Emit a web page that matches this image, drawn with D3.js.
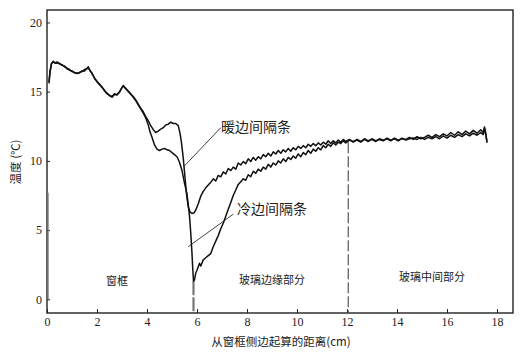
<!DOCTYPE html>
<html>
<head>
<meta charset="utf-8">
<script src="https://cdn.jsdelivr.net/npm/d3@7"></script>
<style>
  body { margin: 0; background: #fff; }
  svg { display: block; }
  .tick text { font-family: "Liberation Serif", serif; font-size: 12px; fill: #222; }
  .cjk { font-family: "Noto Sans CJK SC", sans-serif; fill: #222; }
</style>
</head>
<body>
<svg width="530" height="352"></svg>
<script>
// tick values
const xTicks = [0, 2, 4, 6, 8, 10, 12, 14, 16, 18];
const yTicks = [0, 5, 10, 15, 20];

// temperature along distance, warm edge spacer (cm, °C)
const warmEdge = [
  [0.08,15.6],[0.12,16.4],[0.18,17.0],[0.25,17.2],[0.32,17.05],[0.4,17.15],[0.5,17.0],[0.6,16.95],
  [0.7,16.8],[0.8,16.7],[0.9,16.6],[1.0,16.45],[1.1,16.4],[1.2,16.3],[1.3,16.4],[1.4,16.45],
  [1.5,16.6],[1.6,16.65],[1.65,16.8],[1.72,16.5],[1.8,16.35],[1.9,15.95],[2.0,15.75],[2.1,15.5],
  [2.2,15.35],[2.3,15.05],[2.4,14.9],[2.5,14.7],[2.6,14.65],[2.7,14.85],[2.8,14.75],[2.9,15.0],
  [3.0,15.3],[3.05,15.45],[3.15,15.2],[3.25,15.05],[3.35,14.8],[3.45,14.65],[3.55,14.4],[3.65,14.1],
  [3.75,13.8],[3.85,13.55],[3.95,13.2],[4.05,12.9],[4.15,12.55],[4.25,12.25],[4.35,12.05],[4.45,12.15],
  [4.55,12.3],[4.65,12.4],[4.75,12.6],[4.85,12.65],[4.95,12.8],[5.05,12.7],[5.15,12.7],[5.25,12.55],
  [5.32,12.0],[5.38,11.3],[5.45,10.2],[5.52,8.8],[5.58,7.6],[5.65,6.7],[5.72,6.3],[5.8,6.2],
  [5.88,6.25],[5.95,6.45],[6.05,6.9],[6.15,7.45],[6.25,7.8],[6.35,8.05],[6.45,8.25],[6.55,8.45],
  [6.65,8.7],[6.75,8.55],[6.85,8.95],[6.95,8.85],[7.05,9.2],[7.15,9.05],[7.25,9.45],[7.35,9.3],
  [7.45,9.55],[7.55,9.4],[7.65,9.85],[7.75,9.7],[7.85,9.95],[7.95,9.8],[8.05,10.15],[8.15,9.95],
  [8.25,10.25],[8.35,10.05],[8.45,10.3],[8.55,10.15],[8.65,10.45],[8.75,10.3],[8.85,10.55],[8.95,10.35],
  [9.05,10.65],[9.15,10.5],[9.25,10.75],[9.35,10.55],[9.45,10.8],[9.55,10.65],[9.65,10.9],[9.75,10.7],
  [9.85,10.95],[9.95,10.8],[10.05,11.05],[10.15,10.9],[10.25,11.1],[10.35,10.95],[10.45,11.2],[10.55,11.05],
  [10.65,11.25],[10.75,11.1],[10.85,11.3],[10.95,11.15],[11.05,11.35],[11.15,11.2],[11.25,11.45],[11.35,11.25],
  [11.45,11.45],[11.55,11.3],[11.65,11.5],[11.75,11.35],[11.85,11.55],[11.95,11.4],[12.1,11.55],[12.25,11.35],
  [12.4,11.55],[12.55,11.4],[12.7,11.6],[12.85,11.45],[13.0,11.55],[13.15,11.4],[13.3,11.6],[13.45,11.5],
  [13.6,11.6],[13.75,11.45],[13.9,11.65],[14.05,11.5],[14.2,11.6],[14.35,11.55],[14.5,11.7],[14.65,11.55],
  [14.8,11.75],[14.95,11.6],[15.1,11.7],[15.25,11.85],[15.4,11.7],[15.55,11.9],[15.7,11.75],[15.85,11.95],
  [16.0,11.8],[16.15,12.05],[16.3,11.85],[16.45,12.1],[16.6,11.9],[16.75,12.15],[16.9,11.95],[17.05,12.2],
  [17.2,12.0],[17.35,12.25],[17.45,12.05],[17.5,12.45],[17.55,12.0],[17.6,11.3]
];

// temperature along distance, cold edge spacer (cm, °C)
const coldEdge = [
  [0.08,15.7],[0.12,16.5],[0.18,17.05],[0.25,17.15],[0.32,17.1],[0.4,17.05],[0.5,17.05],[0.6,16.9],
  [0.7,16.85],[0.8,16.65],[0.9,16.55],[1.0,16.5],[1.1,16.35],[1.2,16.35],[1.3,16.35],[1.4,16.5],
  [1.5,16.5],[1.6,16.7],[1.65,16.7],[1.72,16.55],[1.8,16.3],[1.9,16.0],[2.0,15.7],[2.1,15.55],
  [2.2,15.3],[2.3,15.1],[2.4,14.85],[2.5,14.75],[2.6,14.6],[2.7,14.8],[2.8,14.8],[2.9,14.95],
  [3.0,15.3],[3.05,15.4],[3.15,15.25],[3.25,15.0],[3.35,14.85],[3.45,14.6],[3.55,14.35],[3.65,14.05],
  [3.75,13.75],[3.85,13.45],[3.95,13.1],[4.05,12.6],[4.12,12.1],[4.2,11.7],[4.3,11.15],[4.4,10.85],
  [4.5,10.75],[4.6,10.85],[4.7,10.9],[4.8,10.8],[4.9,10.75],[5.0,10.6],[5.1,10.45],[5.2,10.3],
  [5.3,9.9],[5.4,9.3],[5.5,8.4],[5.6,7.6],[5.65,6.8],[5.7,6.0],[5.75,4.8],[5.8,3.3],
  [5.83,2.2],[5.86,1.3],[5.9,1.4],[5.95,1.9],[6.0,2.1],[6.1,2.6],[6.15,2.4],[6.25,2.85],
  [6.35,3.0],[6.45,3.15],[6.55,3.3],[6.65,3.8],[6.75,4.2],[6.85,4.6],[6.95,5.1],[7.05,5.5],
  [7.15,6.0],[7.25,6.5],[7.35,7.0],[7.45,7.5],[7.55,7.9],[7.65,8.3],[7.75,8.5],[7.85,8.7],
  [7.95,8.6],[8.05,9.0],[8.15,8.85],[8.25,9.25],[8.35,9.1],[8.45,9.4],[8.55,9.25],[8.65,9.55],
  [8.75,9.4],[8.85,9.75],[8.95,9.55],[9.05,9.85],[9.15,9.7],[9.25,10.0],[9.35,9.85],[9.45,10.15],
  [9.55,9.95],[9.65,10.25],[9.75,10.1],[9.85,10.35],[9.95,10.2],[10.05,10.5],[10.15,10.3],[10.25,10.6],
  [10.35,10.45],[10.45,10.75],[10.55,10.55],[10.65,10.85],[10.75,10.7],[10.85,10.95],[10.95,10.8],[11.05,11.1],
  [11.15,10.95],[11.25,11.2],[11.35,11.05],[11.45,11.3],[11.55,11.15],[11.65,11.35],[11.75,11.25],[11.85,11.45],
  [11.95,11.3],[12.1,11.5],[12.25,11.4],[12.4,11.5],[12.55,11.35],[12.7,11.55],[12.85,11.4],[13.0,11.6],
  [13.15,11.45],[13.3,11.55],[13.45,11.45],[13.6,11.65],[13.75,11.5],[13.9,11.6],[14.05,11.45],[14.2,11.65],
  [14.35,11.5],[14.5,11.6],[14.65,11.65],[14.8,11.55],[14.95,11.7],[15.1,11.55],[15.25,11.7],[15.4,11.6],
  [15.55,11.75],[15.7,11.6],[15.85,11.8],[16.0,11.65],[16.15,11.85],[16.3,11.7],[16.45,11.9],[16.6,11.75],
  [16.75,11.95],[16.9,11.8],[17.05,12.0],[17.2,11.85],[17.35,12.05],[17.45,11.9],[17.5,12.35],[17.55,11.9],
  [17.6,11.4]
];

// region labels (x position in cm, temperature level)
const regions = [
  { name: "窗框", x: 2.8, t: 1.3 },
  { name: "玻璃边缘部分", x: 9.0, t: 1.4 },
  { name: "玻璃中间部分", x: 15.4, t: 1.6 }
];

// callouts: label anchor and point on curve
const callouts = [
  { name: "暖边间隔条", from: [5.48, 9.6], to: [6.95, 12.4], tx: 6.96, tt: 12.45 },
  { name: "冷边间隔条", from: [5.65, 3.8], to: [7.45, 6.15], tx: 7.6, tt: 6.5 }
];

const svg = d3.select("svg");
const plotL = 47, plotR = 513, plotT = 10, plotB = 313;

const x = d3.scaleLinear().domain([0, 18.64]).range([plotL, plotR]);
const y = d3.scaleLinear().domain([-0.99, 20.9]).range([plotB, plotT]);

// axes
svg.append("g")
  .attr("transform", `translate(0,${plotB})`)
  .call(d3.axisBottom(x).tickValues(xTicks).tickSize(-4).tickSizeOuter(0).tickPadding(4))
  .call(g => g.select(".domain").remove())
  .call(g => g.selectAll(".tick line").attr("stroke", "#222"));

svg.append("g")
  .attr("transform", `translate(${plotL},0)`)
  .call(d3.axisLeft(y).tickValues(yTicks).tickSize(-3).tickSizeOuter(0).tickPadding(5))
  .call(g => g.select(".domain").remove())
  .call(g => g.selectAll(".tick line").attr("stroke", "#222"));

// frame
svg.append("rect")
  .attr("x", plotL).attr("y", plotT)
  .attr("width", plotR - plotL).attr("height", plotB - plotT)
  .attr("fill", "none").attr("stroke", "#222").attr("stroke-width", 1.4);

// region divider at 12 cm
svg.append("line")
  .attr("x1", x(12.05)).attr("x2", x(12.05))
  .attr("y1", y(11.35)).attr("y2", plotB)
  .attr("stroke", "#555").attr("stroke-width", 1.2)
  .attr("stroke-dasharray", "11,3");

// marker at spacer position
svg.append("line")
  .attr("x1", x(5.86)).attr("x2", x(5.86))
  .attr("y1", y(1.3)).attr("y2", plotB)
  .attr("stroke", "#777").attr("stroke-width", 2.2)
  .attr("stroke-dasharray", "14,2");

// drop at frame edge
svg.append("line")
  .attr("x1", x(0.05)).attr("x2", x(0.05))
  .attr("y1", y(7.7)).attr("y2", y(0))
  .attr("stroke", "#888").attr("stroke-width", 1);

const line = d3.line().x(d => x(d[0])).y(d => y(d[1]));

[warmEdge, coldEdge].forEach(data => {
  svg.append("path")
    .datum(data)
    .attr("d", line)
    .attr("fill", "none")
    .attr("stroke", "#111")
    .attr("stroke-width", 1.5)
    .attr("stroke-linejoin", "round");
});

// callouts
callouts.forEach(c => {
  svg.append("line")
    .attr("x1", x(c.from[0])).attr("y1", y(c.from[1]))
    .attr("x2", x(c.to[0])).attr("y2", y(c.to[1]))
    .attr("stroke", "#111").attr("stroke-width", 0.8);
  svg.append("text")
    .attr("class", "cjk")
    .attr("x", x(c.tx)).attr("y", y(c.tt))
    .attr("dy", "0.35em")
    .attr("font-size", 14)
    .text(c.name);
});

// region labels
svg.selectAll(".region")
  .data(regions)
  .join("text")
  .attr("class", "cjk region")
  .attr("x", d => x(d.x)).attr("y", d => y(d.t))
  .attr("dy", "0.35em")
  .attr("text-anchor", "middle")
  .attr("font-size", 11)
  .text(d => d.name);

// axis titles
svg.append("text")
  .attr("class", "cjk")
  .attr("x", 281).attr("y", 342)
  .attr("dy", "0.35em")
  .attr("text-anchor", "middle")
  .attr("font-size", 11.5)
  .text("从窗框侧边起算的距离(cm)");

svg.append("text")
  .attr("class", "cjk")
  .attr("transform", "translate(16,162) rotate(-90)")
  .attr("dy", "0.35em")
  .attr("text-anchor", "middle")
  .attr("font-size", 11.5)
  .text("温度 (℃)");
</script>
</body>
</html>
